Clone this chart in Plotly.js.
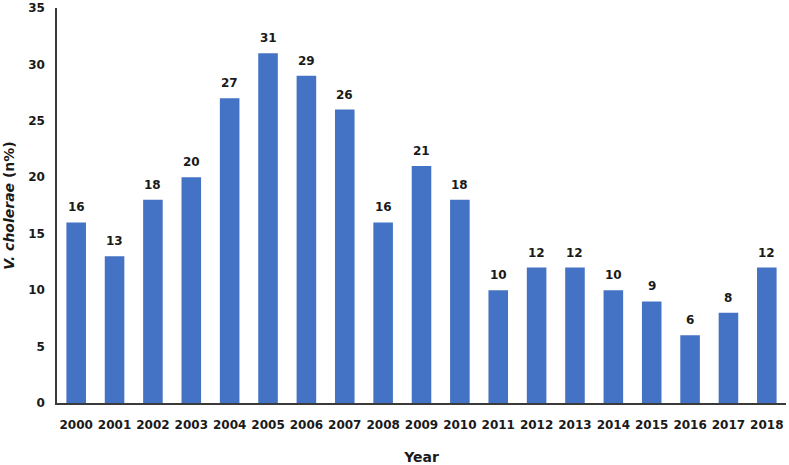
<!DOCTYPE html>
<html>
<head>
<meta charset="utf-8">
<script src="https://cdn.plot.ly/plotly-3.0.1.min.js"></script>
<style>
  html, body { margin: 0; padding: 0; background: #fff; }
  #chart { width: 789px; height: 465px; }
</style>
</head>
<body>
<div id="chart"></div>
<script>
/* data */
const years = ["2000","2001","2002","2003","2004","2005","2006","2007","2008","2009",
               "2010","2011","2012","2013","2014","2015","2016","2017","2018"];
const cases = [16,13,18,20,27,31,29,26,16,21,18,10,12,12,10,9,6,8,12];
const yTicks = [0,5,10,15,20,25,30,35];

const fontFamily = "'DejaVu Sans', Verdana, sans-serif";
const textColor = "#1a1a1a";

// value labels sit a bit higher above the bars than plotly's own "outside" text
// (x is the category index: year strings would be read as numbers)
const valueLabels = cases.map((v, i) => ({
  x: i,
  y: v,
  text: "<b>" + v + "</b>",
  showarrow: false,
  yanchor: "middle",
  yshift: 15,
  font: { family: fontFamily, size: 12, color: textColor }
}));

Plotly.newPlot("chart", [
  {
    type: "bar",
    x: years,
    y: cases,
    marker: { color: "#4472C4" },
    hoverinfo: "x+y"
  }
], {
  width: 789,
  height: 465,
  margin: { l: 57, r: 3, t: 8, b: 62 },
  paper_bgcolor: "#fff",
  plot_bgcolor: "#fff",
  bargap: 0.49,
  showlegend: false,
  font: { family: fontFamily, color: textColor },
  annotations: valueLabels,
  xaxis: {
    type: "category",
    range: [-0.5, years.length - 0.5],
    showline: true,
    linecolor: "#3a3a3a",
    linewidth: 1.5,
    showgrid: false,
    ticks: "",
    tickvals: years,
    ticktext: years.map(y => "<b>" + y + "</b>"),
    ticklabelstandoff: 10,
    tickfont: { family: fontFamily, size: 12, color: textColor },
    title: {
      text: "<b>Year</b>",
      font: { family: fontFamily, size: 14, color: textColor },
      standoff: 22
    }
  },
  yaxis: {
    range: [0, 35],
    tickvals: yTicks,
    ticktext: yTicks.map(v => "<b>" + v + "</b>"),
    showline: true,
    linecolor: "#3a3a3a",
    linewidth: 1.5,
    showgrid: false,
    zeroline: false,
    ticks: "",
    ticklabelstandoff: 8,
    tickfont: { family: fontFamily, size: 12, color: textColor },
    title: {
      text: "<b><i>V. cholerae</i> (n%)</b>",
      font: { family: fontFamily, size: 14, color: textColor },
      standoff: 10
    }
  }
}, { displayModeBar: false, responsive: false });
</script>
</body>
</html>
